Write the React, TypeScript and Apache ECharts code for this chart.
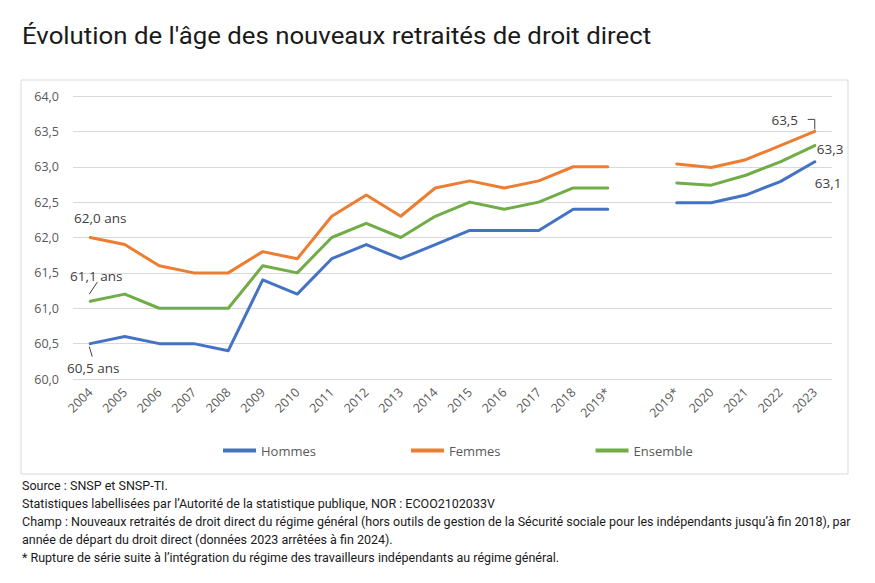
import React, { useEffect, useRef } from "react";
import * as echarts from "echarts";

const categories = [
  "2004", "2005", "2006", "2007", "2008", "2009", "2010", "2011", "2012", "2013",
  "2014", "2015", "2016", "2017", "2018", "2019*", "", "2019*", "2020", "2021", "2022", "2023",
];
const hommes = [60.5, 60.6, 60.5, 60.5, 60.4, 61.4, 61.2, 61.7, 61.9, 61.7, 61.9, 62.1, 62.1, 62.1, 62.4, 62.4, null, 62.49, 62.49, 62.6, 62.79, 63.07];
const femmes = [62.0, 61.9, 61.6, 61.5, 61.5, 61.8, 61.7, 62.3, 62.6, 62.3, 62.7, 62.8, 62.7, 62.8, 63.0, 63.0, null, 63.04, 62.99, 63.1, 63.3, 63.5];
const ensemble = [61.1, 61.2, 61.0, 61.0, 61.0, 61.6, 61.5, 62.0, 62.2, 62.0, 62.3, 62.5, 62.4, 62.5, 62.7, 62.7, null, 62.77, 62.74, 62.88, 63.07, 63.3];
const seriesNames = ["Hommes", "Femmes", "Ensemble"];
const colors = ["#4472C4", "#ED7D31", "#70AD47"];
const yTicks = { min: 60, max: 64, interval: 0.5 };

const titleText = "Évolution de l'âge des nouveaux retraités de droit direct";
const footerLines = [
  "Source : SNSP et SNSP-TI.",
  "Statistiques labellisées par l’Autorité de la statistique publique, NOR : ECOO2102033V",
  "Champ : Nouveaux retraités de droit direct du régime général (hors outils de gestion de la Sécurité sociale pour les indépendants jusqu’à fin 2018), par",
  "année de départ du droit direct (données 2023 arrêtées à fin 2024).",
  "* Rupture de série suite à l’intégration du régime des travailleurs indépendants au régime général.",
];

const fmt = (v: number) => v.toFixed(1).replace(".", ",");

// label placement per series: [first point, last point]
const labelSpecs: any[] = [
  [
    { position: "bottom", offset: [3, 11], suffix: " ans" },
    { position: "right", offset: [-6, 21], suffix: "" },
  ],
  [
    { position: "top", offset: [10, -7], suffix: " ans" },
    { position: "top", offset: [-30, 2], suffix: "" },
  ],
  [
    { position: "top", offset: [6, -12], suffix: " ans" },
    { position: "right", offset: [-4, 3], suffix: "" },
  ],
];

const labelFont = {
  fontFamily: "'Open Sans', sans-serif",
  fontSize: 13.5,
  color: "#404040",
};

function buildData(values: (number | null)[], si: number) {
  const last = values.length - 1;
  return values.map((v, i) => {
    if (v === null) return null;
    const spec = i === 0 ? labelSpecs[si][0] : i === last ? labelSpecs[si][1] : null;
    if (!spec) return { value: v, symbol: "none" };
    return {
      value: v,
      symbol: "circle",
      symbolSize: 2,
      label: {
        show: true,
        position: spec.position,
        distance: 5,
        offset: spec.offset,
        formatter: () => fmt(v) + spec.suffix,
        ...labelFont,
      },
    };
  });
}

export default function App() {
  const ref = useRef<HTMLDivElement>(null);
  useEffect(() => {
    if (!ref.current) return;
    const chart = echarts.init(ref.current, undefined, { renderer: "svg" });
    const allValues = [hommes, femmes, ensemble];

    const staticGraphic: any[] = [
      {
        id: "frame",
        type: "rect",
        shape: { x: 21, y: 80, width: 827, height: 394 },
        style: { fill: "none", stroke: "#d9d9d9", lineWidth: 1 },
        silent: true,
        z: -1,
      },
      {
        id: "title",
        type: "text",
        x: 22,
        y: 36,
        scaleX: 1.075,
        style: {
          text: titleText,
          fill: "#1a1a1a",
          font: "400 24px Roboto, sans-serif",
          textVerticalAlign: "middle",
        },
      },
      ...footerLines.map((t, i) => ({
        id: "foot" + i,
        type: "text",
        x: 22,
        y: 485 + i * 18,
        style: {
          text: t,
          fill: "#1a1a1a",
          font: "400 12.5px Roboto, sans-serif",
          textVerticalAlign: "middle",
        },
      })),
    ];

    chart.setOption({
      animation: false,
      backgroundColor: "#ffffff",
      color: colors,
      grid: { left: 73, right: 43, top: 96, bottom: 204, containLabel: false },
      legend: {
        data: seriesNames,
        top: 439,
        left: 218,
        itemGap: 95,
        itemWidth: 33,
        itemHeight: 4,
        icon: "rect",
        textStyle: {
          fontFamily: "'Open Sans', sans-serif",
          fontSize: 13,
          color: "#595959",
        },
      },
      xAxis: {
        type: "category",
        data: categories,
        boundaryGap: true,
        axisLine: { show: false },
        axisTick: { show: false },
        axisLabel: {
          rotate: 45,
          interval: 0,
          margin: 11,
          fontFamily: "'Open Sans', sans-serif",
          fontSize: 12.5,
          color: "#595959",
        },
        splitLine: { show: false },
      },
      yAxis: {
        type: "value",
        min: yTicks.min,
        max: yTicks.max,
        interval: yTicks.interval,
        axisLine: { show: false },
        axisTick: { show: false },
        axisLabel: {
          margin: 14,
          formatter: (v: number) => fmt(v),
          fontFamily: "'Open Sans', sans-serif",
          fontSize: 12.5,
          color: "#595959",
        },
        splitLine: { lineStyle: { color: "#d9d9d9", width: 1 } },
      },
      series: seriesNames.map((name, si) => ({
        name,
        type: "line",
        data: buildData(allValues[si], si),
        symbol: "circle",
        symbolSize: 2,
        showSymbol: true,
        showAllSymbol: true,
        connectNulls: false,
        lineStyle: { width: 3, color: colors[si], cap: "round", join: "round" },
        itemStyle: { color: colors[si] },
      })),
      graphic: staticGraphic,
    });

    // leader lines, anchored to data points
    const last = categories.length - 1;
    const px = (si: number, i: number) =>
      chart.convertToPixel({ seriesIndex: si }, [i, allValues[si][i] as number]) as number[];
    const pE = px(2, 0);
    const pH = px(0, 0);
    const pF = px(1, last);
    const lineStyle = { stroke: "#404040", lineWidth: 1, fill: "none" };
    const leaders: any[] = [
      {
        id: "leadE",
        type: "line",
        shape: { x1: pE[0] - 1, y1: pE[1] - 7, x2: pE[0] + 7, y2: pE[1] - 19 },
        style: lineStyle,
      },
      {
        id: "leadH",
        type: "line",
        shape: { x1: pH[0] - 1, y1: pH[1] + 3, x2: pH[0] + 2, y2: pH[1] + 13 },
        style: lineStyle,
      },
      {
        id: "leadF",
        type: "polyline",
        shape: {
          points: [
            [pF[0] - 7, pF[1] - 12],
            [pF[0], pF[1] - 12],
            [pF[0], pF[1] - 2],
          ],
        },
        style: lineStyle,
      },
    ];
    chart.setOption({ graphic: [...staticGraphic, ...leaders] });

    return () => chart.dispose();
  }, []);

  return (
    <div
      ref={ref}
      style={{ position: "absolute", left: 0, top: 0, width: 875, height: 583, background: "#fff" }}
    />
  );
}
